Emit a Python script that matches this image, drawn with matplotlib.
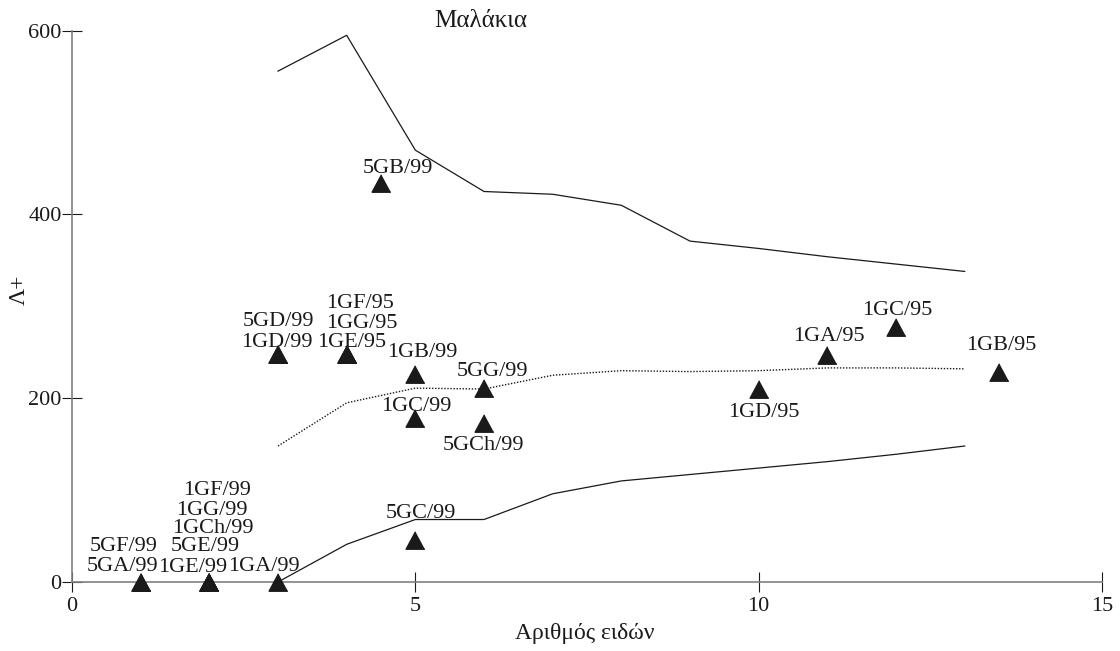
import matplotlib
matplotlib.use("Agg")
import matplotlib.pyplot as plt

plt.rcParams['font.family'] = ['Liberation Serif', 'DejaVu Serif']
plt.rcParams['font.size'] = 16

# Sampling stations: number of species vs taxonomic distinctness (Λ+)
sites = ["5GA/99", "5GF/99", "1GE/99", "5GE/99", "1GCh/99", "1GG/99", "1GF/99",
         "1GA/99", "5GC/99", "1GD/99", "5GD/99", "1GE/95", "1GG/95", "1GF/95",
         "5GB/99", "1GB/99", "1GC/99", "5GG/99", "5GCh/99", "1GD/95", "1GA/95",
         "1GC/95", "1GB/95"]
n_species = [1, 1, 2, 2, 2, 2, 2,
             3, 5, 3, 3, 4, 4, 4,
             4.5, 5, 5, 6, 6, 10, 11,
             12, 13.5]
lambda_plus = [0, 0, 0, 0, 0, 0, 0,
               0, 46, 248, 248, 248, 248, 248,
               434, 226, 179, 211, 173.5, 210.5, 247,
               277, 229]

# Simulated distribution: upper limit, mean, lower limit
sim_species = [3, 4, 5, 6, 7, 8, 9, 10, 11, 12, 13]
sim_upper = [556, 595, 470, 425, 422, 410, 371, 363, 354, 346, 338]
sim_mean = [148, 195, 211, 210, 225, 230, 229, 230, 233, 233, 232]
sim_lower = [0, 41, 68, 68, 96, 110, 117, 124, 131, 139, 148]

# Label placement (pixel offsets of label centre from the marker)
label_offsets = [(-18, 18), (-17, 38), (-17, 17), (-4, 38), (4, 56), (3, 74), (8, 94),
                 (-14, 18), (6, 29), (-1, 14), (0, 35), (5, 14), (15, 33), (13, 53),
                 (17, 17), (7, 24), (1, 14), (8, 19), (-1, -20), (5, -21), (2, 21),
                 (1, 19), (2, 29)]

fig = plt.figure(figsize=(11.2, 6.51), dpi=100)
ax = fig.add_axes([72 / 1120, 1 - 582 / 651, (1102 - 72) / 1120, (582 - 30.7) / 651])

ax.plot(sim_species, sim_upper, color="#1a1a1a", lw=0.9)
ax.plot(sim_species, sim_lower, color="#1a1a1a", lw=0.9)
ax.plot(sim_species, sim_mean, color="#1a1a1a", lw=1.0, linestyle=(0, (1, 1.2)))

tri = [(0, 0.93), (-1, -0.93), (1, -0.93)]
ax.plot(n_species, lambda_plus, linestyle="none", marker=tri, markersize=13.5,
        color="#1a1a1a", clip_on=False, zorder=5)

for name, x, y, (dx, dy) in zip(sites, n_species, lambda_plus, label_offsets):
    ax.annotate(name, (x, y), xytext=(dx, dy - 7), textcoords="offset pixels",
                ha="center", va="baseline", fontsize=16, color="#1a1a1a",
                annotation_clip=False, zorder=6)

ax.set_xlim(0, 15)
ax.set_ylim(0, 600)
ax.set_xticks([0, 5, 10, 15])
ax.set_yticks([0, 200, 400, 600])

for side in ("top", "right"):
    ax.spines[side].set_visible(False)
for side in ("left", "bottom"):
    ax.spines[side].set_color("#808080")
    ax.spines[side].set_linewidth(1.2)

ax.tick_params(axis="both", direction="inout", length=15, width=0.8,
               color="#1a1a1a", labelcolor="#1a1a1a", labelsize=16)
ax.tick_params(axis="y", pad=0)
ax.tick_params(axis="x", pad=3)

fig.text(585 / 1120, 1 - 633 / 651, "Αριθμός ειδών", ha="center", va="center",
         fontsize=17, color="#1a1a1a")
fig.text(19 / 1120, 1 - 290 / 651, "Λ+", ha="center", va="center", rotation=90,
         fontsize=17, color="#1a1a1a")
fig.text(481 / 1120, 1 - 21 / 651, "Μαλάκια", ha="center", va="center",
         fontsize=18, color="#1a1a1a")

fig.savefig("out.png", dpi=100, facecolor="white")
